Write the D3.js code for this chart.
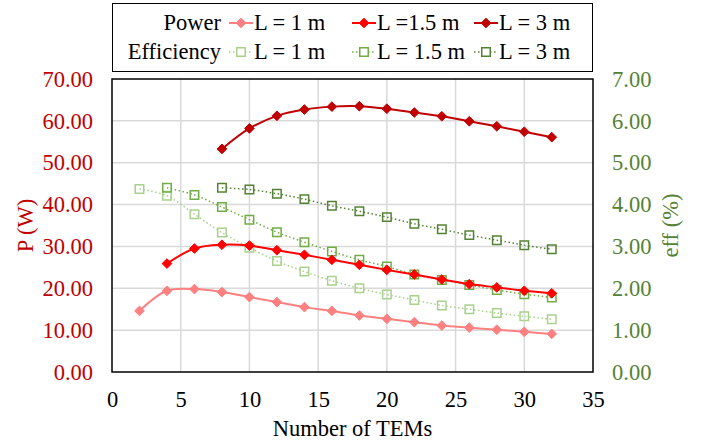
<!DOCTYPE html>
<html>
<head>
<meta charset="utf-8">
<script src="https://cdn.jsdelivr.net/npm/d3@7"></script>
<style>
  body { margin: 0; background: #fff; }
  text { font-family: "Liberation Serif", "Times New Roman", serif; }
</style>
</head>
<body>
<svg id="chart" width="703" height="445"></svg>
<script>
// data
var temsPower1 = [2, 4, 6, 8, 10, 12, 14, 16, 18, 20, 22, 24, 26, 28, 30, 32] ;
var temsPower15 = [4, 6, 8, 10, 12, 14, 16, 18, 20, 22, 24, 26, 28, 30, 32] ;
var temsPower3 = [8, 10, 12, 14, 16, 18, 20, 22, 24, 26, 28, 30, 32] ;

var power1 = [14.6, 19.4, 19.8, 19.1, 17.9, 16.7, 15.5, 14.6, 13.5, 12.7, 11.9, 11.1, 10.6, 10.1, 9.6, 9.1] ;
var power15 = [25.9, 29.5, 30.4, 30.2, 29.1, 28.0, 26.8, 25.6, 24.4, 23.3, 22.1, 21.0, 20.2, 19.4, 18.8] ;
var power3 = [53.3, 58.2, 61.2, 62.7, 63.4, 63.5, 62.9, 62.0, 61.1, 59.9, 58.7, 57.4, 56.1] ;

var eff1 = [4.37, 4.21, 3.77, 3.33, 2.97, 2.65, 2.40, 2.18, 2.00, 1.85, 1.72, 1.59, 1.50, 1.41, 1.33, 1.26] ;
var eff15 = [4.40, 4.23, 3.94, 3.64, 3.34, 3.10, 2.88, 2.68, 2.52, 2.33, 2.20, 2.08, 1.96, 1.86, 1.78] ;
var eff3 = [4.40, 4.36, 4.26, 4.13, 3.97, 3.84, 3.70, 3.54, 3.41, 3.27, 3.15, 3.03, 2.93] ;

var xTicks = [0, 5, 10, 15, 20, 25, 30, 35] ;
var powerTicks = [0, 10, 20, 30, 40, 50, 60, 70] ;
var effTicks = [0, 1, 2, 3, 4, 5, 6, 7] ;

var powerNames = ['L = 1 m', 'L =1.5 m', 'L = 3 m'] ;
var effNames = ['L = 1 m', 'L = 1.5 m', 'L = 3 m'] ;

var powerColors = ['#ff8080', '#ff0000', '#c00000'] ;
var effColors = ['#a9d18e', '#70ad47', '#548235'] ;

( function() {
var svg = d3.select('#chart') ;
var pLeft = 112, pRight = 593, pTop = 79, pBottom = 372 ;

var x = d3.scaleLinear().domain([0, 35]).range([pLeft, pRight]) ;
var yP = d3.scaleLinear().domain([0, 70]).range([pBottom, pTop]) ;
var yE = d3.scaleLinear().domain([0, 7]).range([pBottom, pTop]) ;

// gridlines
svg.append('g').selectAll('line').data(powerTicks.slice(1, -1)).enter().append('line')
	.attr('x1', pLeft).attr('x2', pRight)
	.attr('y1', function(d) { return yP(d) ; }).attr('y2', function(d) { return yP(d) ; })
	.attr('stroke', '#d9d9d9').attr('stroke-width', 1.5) ;
svg.append('g').selectAll('line').data(xTicks.slice(1, -1)).enter().append('line')
	.attr('y1', pTop).attr('y2', pBottom)
	.attr('x1', function(d) { return x(d) ; }).attr('x2', function(d) { return x(d) ; })
	.attr('stroke', '#d9d9d9').attr('stroke-width', 1.5) ;

// axes
var fs = 22.5 ;
var serif = '"Liberation Serif", "Times New Roman", serif' ;
var ax = svg.append('g').attr('transform', 'translate(0,' + pBottom + ')')
	.call(d3.axisBottom(x).tickValues(xTicks).tickSize(0).tickPadding(19)) ;
ax.select('.domain').remove() ;
ax.selectAll('text').attr('font-size', fs).attr('fill', '#000').style('font-family', serif) ;

var al = svg.append('g').attr('transform', 'translate(' + pLeft + ',0)')
	.call(d3.axisLeft(yP).tickValues(powerTicks).tickSize(0).tickPadding(19).tickFormat(d3.format('.2f'))) ;
al.select('.domain').remove() ;
al.selectAll('text').attr('font-size', fs).attr('fill', '#c00000').style('font-family', serif) ;

var ar = svg.append('g').attr('transform', 'translate(' + pRight + ',0)')
	.call(d3.axisRight(yE).tickValues(effTicks).tickSize(0).tickPadding(19).tickFormat(d3.format('.2f'))) ;
ar.select('.domain').remove() ;
ar.selectAll('text').attr('font-size', fs).attr('fill', '#548235').style('font-family', serif) ;

svg.append('text').attr('x', (pLeft + pRight) / 2).attr('y', 436).attr('text-anchor', 'middle')
	.attr('font-size', fs).text('Number of TEMs') ;
svg.append('text').attr('transform', 'translate(33,' + ((pTop + pBottom) / 2) + ') rotate(-90)')
	.attr('text-anchor', 'middle').attr('font-size', fs).attr('fill', '#c00000').text('P (W)') ;
svg.append('text').attr('transform', 'translate(678,' + ((pTop + pBottom) / 2) + ') rotate(-90)')
	.attr('text-anchor', 'middle').attr('font-size', fs).attr('fill', '#548235').text('eff (%)') ;

// plot border
svg.append('rect').attr('x', pLeft).attr('y', pTop).attr('width', pRight - pLeft).attr('height', pBottom - pTop)
	.attr('fill', 'none').attr('stroke', '#000').attr('stroke-width', 1.5) ;

var diamond = d3.symbol().type(d3.symbolDiamond2).size(60) ;
var square = d3.symbol().type(d3.symbolSquare).size(72) ;

function drawSeries(xs, ys, yScale, color, isPower) {
	var pts = xs.map(function(d, i) { return [x(d), yScale(ys[i])] ; }) ;
	var line = d3.line().curve(d3.curveCatmullRom.alpha(0.5)) ;
	svg.append('path').attr('d', line(pts)).attr('fill', 'none').attr('stroke', color)
		.attr('stroke-width', isPower ? 2 : 1.5)
		.attr('stroke-dasharray', isPower ? null : '1.5,2.5') ;
	svg.append('g').selectAll('path').data(pts).enter().append('path')
		.attr('transform', function(d) { return 'translate(' + d[0] + ',' + d[1] + ')' ; })
		.attr('d', isPower ? diamond : square)
		.attr('fill', isPower ? color : 'none')
		.attr('stroke', color).attr('stroke-width', isPower ? 1 : 1.5) ;
}

drawSeries(temsPower1, eff1, yE, effColors[0], false) ;
drawSeries(temsPower15, eff15, yE, effColors[1], false) ;
drawSeries(temsPower3, eff3, yE, effColors[2], false) ;
drawSeries(temsPower1, power1, yP, powerColors[0], true) ;
drawSeries(temsPower15, power15, yP, powerColors[1], true) ;
drawSeries(temsPower3, power3, yP, powerColors[2], true) ;

// legend
svg.append('rect').attr('x', 112.5).attr('y', 3.5).attr('width', 480).attr('height', 68)
	.attr('fill', '#fff').attr('stroke', '#000').attr('stroke-width', 1) ;
var rows = [
	{ label: 'Power', names: powerNames, colors: powerColors, power: true, y: 23 },
	{ label: 'Efficiency', names: effNames, colors: effColors, power: false, y: 52 }
] ;
var lineStarts = [229, 352, 474] ;
rows.forEach(function(r) {
	svg.append('text').attr('x', 221).attr('y', r.y + 7).attr('text-anchor', 'end')
		.attr('font-size', fs).text(r.label) ;
	for (var i = 0 ; i < 3 ; ++i) {
		var lx = lineStarts[i] ;
		svg.append('line').attr('x1', lx).attr('x2', lx + 24).attr('y1', r.y).attr('y2', r.y)
			.attr('stroke', r.colors[i]).attr('stroke-width', r.power ? 2 : 1.5)
			.attr('stroke-dasharray', r.power ? null : '1.5,2.5') ;
		svg.append('path').attr('transform', 'translate(' + (lx + 12) + ',' + r.y + ')')
			.attr('d', r.power ? diamond : square)
			.attr('fill', r.power ? r.colors[i] : '#fff')
			.attr('stroke', r.colors[i]).attr('stroke-width', r.power ? 1 : 1.5) ;
		svg.append('text').attr('x', lx + 25).attr('y', r.y + 7)
			.attr('font-size', fs).text(r.names[i]) ;
	}
}) ;
} ) () ;
</script>
</body>
</html>
